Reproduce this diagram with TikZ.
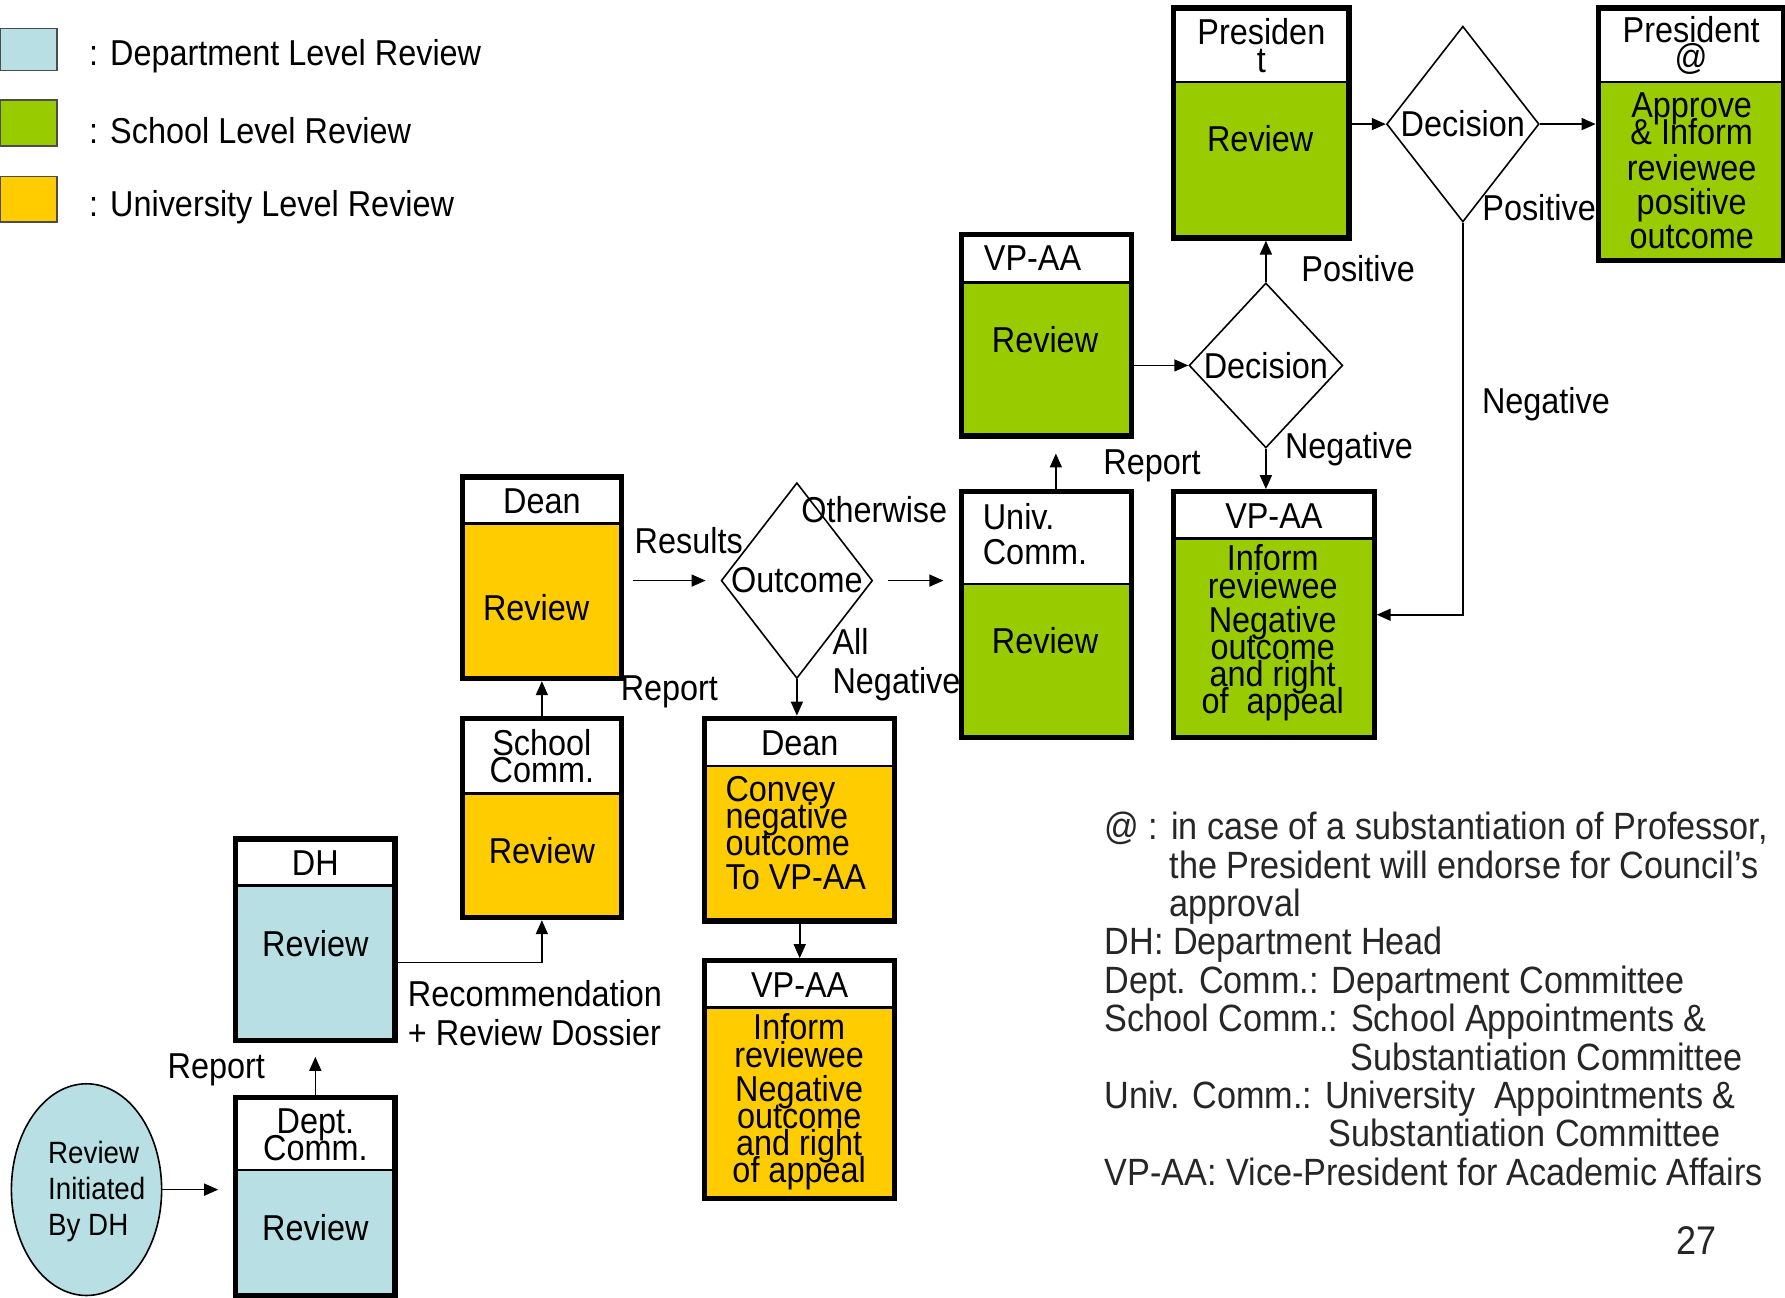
\documentclass[tikz,border=0pt]{standalone}
\usepackage{fontspec}
\setmainfont{Liberation Sans}[FakeStretch=0.9]
\usetikzlibrary{shapes.geometric,arrows.meta,fit,positioning}
\definecolor{deptblue}{HTML}{B8DFE3}
\definecolor{schgreen}{HTML}{99CC00}
\definecolor{univgold}{HTML}{FFCC00}
\newcommand{\boxfont}{\fontsize{18}{13.6}\selectfont\lineskiplimit=-30pt}
\newcommand{\lblfont}{\fontsize{18}{19.5}\selectfont}
\newcommand{\notefont}{\fontsize{19}{19.2}\selectfont}
\newcommand{\smallfont}{\fontsize{15.4}{16}\selectfont\lineskiplimit=-30pt}
\tikzset{
  hd/.style={draw, line width=1.2pt, fill=white, inner sep=0pt},
  bd/.style={draw, line width=1.2pt, inner sep=0pt},
  frame/.style={draw, line width=2.6pt, inner sep=0pt},
  legbox/.style={draw=black!70, line width=0.8pt, inner sep=0pt},
  decide/.style={diamond, draw, line width=0.8pt, inner sep=0pt},
  arr/.style={-{Triangle[length=7pt,width=6pt]}, line width=0.8pt},
  lbl/.style={inner sep=0pt, font=\lblfont},
  txt/.style={inner sep=0pt, align=center, font=\boxfont},
}
\begin{document}
\begin{tikzpicture}[x=0.02cm,y=-0.02cm]
\useasboundingbox (0,0) rectangle (1568,1140);

% legend
\node[legbox, fill=deptblue, fit={(0,25)(50,62)}] (lg1) {};
\node[legbox, fill=schgreen, fit={(0,88)(50,128)}] (lg2) {};
\node[legbox, fill=univgold, fit={(0,155)(50,195)}] (lg3) {};
\node[lbl, anchor=west] (lg1t) at (78,49) {: Department Level Review};
\node[lbl, anchor=west] (lg2t) at (78,115) {: School Level Review};
\node[lbl, anchor=west] (lg3t) at (78,182) {: University Level Review};

% department level
\node[ellipse, draw, line width=0.8pt, fill=deptblue, minimum width=2.64cm, minimum height=3.72cm,
  inner sep=0pt] (init) at (76,1045) {};
\node[txt, align=left, font=\smallfont] (initt) at (85,1047) {Review\\[2pt]Initiated\\[2pt]By DH};
\node[hd, fit={(208,965)(346,1028)}] (depth) {};
\node[txt] (depthl) at (depth) {Dept.\\Comm.};
\node[bd, fill=deptblue, fit={(208,1028)(346,1137)}] (deptb) {};
\node[frame, fit=(depth)(deptb)] (dept) {};
\node[txt] (deptt) at (277,1078) {Review};

\node[hd, fit={(208,738)(346,778)}] (dhh) {};
\node[txt] (dhl) at (dhh) {DH};
\node[bd, fill=deptblue, fit={(208,778)(346,913)}] (dhb) {};
\node[frame, fit=(dhh)(dhb)] (dh) {};
\node[txt] (dht) at (277,829) {Review};

% school level (dean)
\node[hd, fit={(407,632)(545,697)}] (sch) {};
\node[txt] (schl) at (sch) {School\\Comm.};
\node[bd, fill=univgold, fit={(407,697)(545,805)}] (scb) {};
\node[frame, fit=(sch)(scb)] (sc) {};
\node[txt] (sct) at (476,747) {Review};

\node[hd, fit={(407,420)(545,460)}] (deh) {};
\node[txt] (del) at (deh) {Dean};
\node[bd, fill=univgold, fit={(407,460)(545,595)}] (deb) {};
\node[frame, fit=(deh)(deb)] (de) {};
\node[txt] (det) at (471,534) {Review};

\node[decide, minimum width=2.66cm, minimum height=3.44cm] (oc) at (700,510) {};
\node[lbl] (oct) at (oc) {Outcome};

\node[hd, fit={(620,632)(785,673)}] (d2h) {};
\node[txt] (d2l) at (d2h) {Dean};
\node[bd, fill=univgold, fit={(620,673)(785,808)}] (d2b) {};
\node[frame, fit=(d2h)(d2b)] (d2) {};
\node[txt, align=left, anchor=west] (d2t) at (637,732) {Convey\\negative\\outcome\\[3.4pt]To VP-AA};

\node[hd, fit={(620,845)(785,885)}] (v2h) {};
\node[txt] (v2l) at (v2h) {VP-AA};
\node[bd, fill=univgold, fit={(620,885)(785,1052)}] (v2b) {};
\node[frame, fit=(v2h)(v2b)] (v2) {};
\node[txt] (v2t) at (702,968) {Inform\\reviewee\\[3.4pt]Negative\\outcome\\and right\\of appeal};

% university level
\node[hd, fit={(846,433)(993,513)}] (unh) {};
\node[txt, align=left, anchor=west] (unl) at (863,469) {Univ.\\[4pt]Comm.};
\node[bd, fill=schgreen, fit={(846,513)(993,647)}] (unb) {};
\node[frame, fit=(unh)(unb)] (un) {};
\node[txt] (unt) at (918,563) {Review};

\node[hd, fit={(846,207)(993,248)}] (v1h) {};
\node[txt] (v1l) at (907,227) {VP-AA};
\node[bd, fill=schgreen, fit={(846,248)(993,382)}] (v1b) {};
\node[frame, fit=(v1h)(v1b)] (v1) {};
\node[txt] (v1t) at (918,298) {Review};

\node[decide, minimum width=2.7cm, minimum height=2.9cm] (dec1) at (1112,321) {};
\node[lbl] (dec1t) at (dec1) {Decision};

\node[hd, fit={(1032,433)(1206,473)}] (v3h) {};
\node[txt] (v3l) at (v3h) {VP-AA};
\node[bd, fill=schgreen, fit={(1032,473)(1206,647)}] (v3b) {};
\node[frame, fit=(v3h)(v3b)] (v3) {};
\node[txt] (v3t) at (1118,556) {Inform\\reviewee\\[3.4pt]Negative\\outcome\\and right\\of\ \ appeal};

\node[hd, fit={(1032,8)(1184,72)}] (prh) {};
\node[txt] (prl) at (prh) {Presiden\\t};
\node[bd, fill=schgreen, fit={(1032,72)(1184,208)}] (prb) {};
\node[frame, fit=(prh)(prb)] (pr) {};
\node[txt] (prt) at (1107,122) {Review};

\node[decide, minimum width=2.68cm, minimum height=3.44cm] (dec2) at (1285,109) {};
\node[lbl] (dec2t) at (dec2) {Decision};

\node[hd, fit={(1405,8)(1566,72)}] (pah) {};
\node[txt] (pal) at (pah) {President\\@};
\node[bd, fill=schgreen, fit={(1405,72)(1566,228)}] (pab) {};
\node[frame, fit=(pah)(pab)] (pa) {};
\node[txt] (pat) at (1486,150) {Approve\\\& Inform\\[4pt]reviewee\\[3.4pt]positive\\[3.4pt]outcome};

% connectors
\draw[arr, shorten >=0.26cm] (init.east) -- (init.east -| dept.west);
\draw[arr, shorten >=0.24cm] (dept.north) -- (dh.south);
\draw[arr] (dhb.east) -| (sc.south);
\draw[arr] (sc.north) -- (de.south);
\draw[arr, shorten <=0.16cm, shorten >=0.26cm] (de.east |- oc.west) -- (oc.west);
\draw[arr, shorten <=0.26cm, shorten >=0.28cm] (oc.east) -- (oc.east -| un.west);
\draw[arr] (oc.south) -- (oc.south |- d2.north);
\draw[arr] (d2.south) -- (d2.south |- v2.north);
\draw[arr, shorten >=0.26cm] ([xshift=0.16cm]un.north) -- ([xshift=0.16cm]v1.south);
\draw[arr] (v1.east |- dec1.west) -- (dec1.west);
\draw[arr] (dec1.north) -- (dec1.north |- pr.south);
\draw[arr] (dec1.south) -- (dec1.south |- v3.north);
\draw[arr] (pr.east |- dec2.west) -- (dec2.west);
\draw[arr] (dec2.east) -- (dec2.east -| pa.west);
\draw[arr] (dec2.south) |- (v3.east);

% labels
\node[lbl] (rep1) at (190,940) {Report};
\node[lbl, align=left, anchor=west] (rec) at (358,890) {Recommendation\\+ Review Dossier};
\node[lbl] (rep2) at (588,608) {Report};
\node[lbl] (res) at (605,475) {Results};
\node[lbl] (oth) at (768,448) {Otherwise};
\node[lbl, align=left, anchor=west] (alln) at (731,584) {All\\Negative};
\node[lbl] (rep3) at (1012,409) {Report};
\node[lbl] (pos1) at (1193,236) {Positive};
\node[lbl] (neg1) at (1185,395) {Negative};
\node[lbl] (pos2) at (1352,182) {Positive};
\node[lbl] (neg2) at (1358,355) {Negative};

% notes
\node[inner sep=0pt, align=left, anchor=north west, font=\notefont, text=black!85] (notes) at (970,713)
  {@ : in case of a substantiation of Professor,\\
   \hspace*{1.14cm}the President will endorse for Council’s\\
   \hspace*{1.14cm}approval\\
   DH: Department Head\\
   Dept. Comm.: Department Committee\\
   School Comm.: School Appointments \&\\
   \hspace*{4.32cm}Substantiation Committee\\
   Univ. Comm.: University\ \ Appointments \&\\
   \hspace*{3.94cm}Substantiation Committee\\
   VP-AA: Vice-President for Academic Affairs};
\node[inner sep=0pt, font=\fontsize{20}{20}\selectfont, text=black!85] (pg) at (1490,1090) {27};
\end{tikzpicture}
\end{document}
